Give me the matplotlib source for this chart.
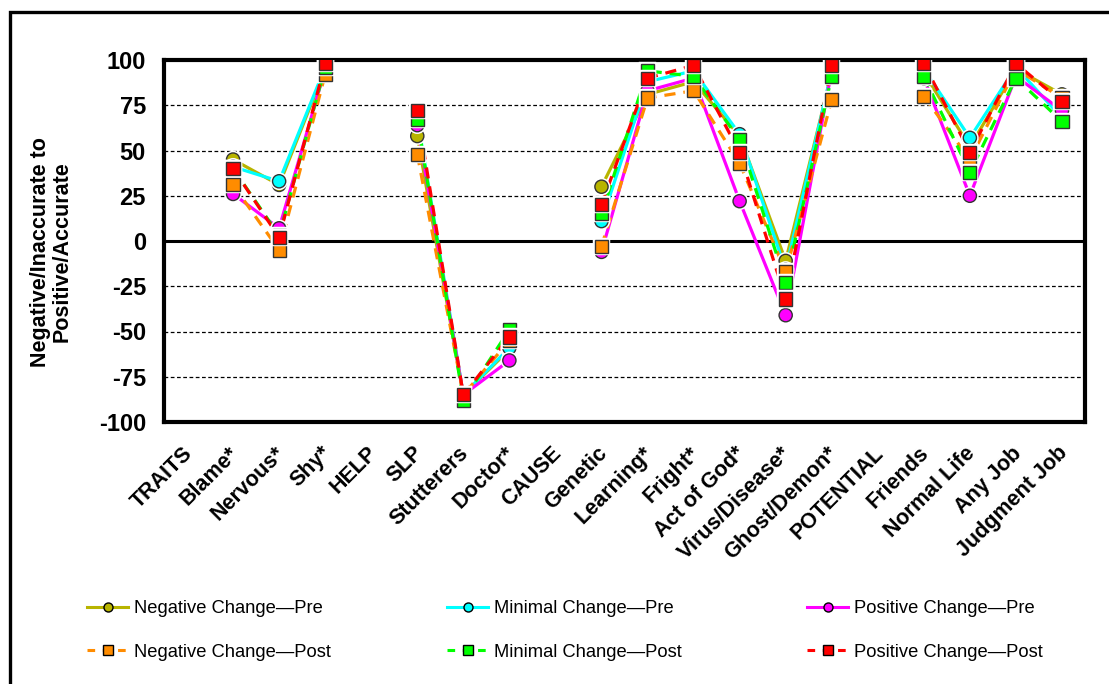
import numpy as np
import matplotlib
matplotlib.use("Agg")
import matplotlib.pyplot as plt
import matplotlib.patheffects as pe
from matplotlib.lines import Line2D
from matplotlib.patches import Rectangle
from matplotlib.transforms import ScaledTranslation

nan = np.nan
categories = ['TRAITS', 'Blame*', 'Nervous*', 'Shy*', 'HELP', 'SLP', 'Stutterers',
              'Doctor*', 'CAUSE', 'Genetic', 'Learning*', 'Fright*', 'Act of God*',
              'Virus/Disease*', 'Ghost/Demon*', 'POTENTIAL', 'Friends', 'Normal Life',
              'Any Job', 'Judgment Job']

neg_pre  = [nan, 45, 31, 95, nan, 58, -85, -60, nan, 30, 81, 88, 58, -11, 93, nan, 93, 52, 95, 81]
min_pre  = [nan, 41, 33, 96, nan, 68, -85, -59, nan, 11, 88, 94, 59, -16, 94, nan, 95, 57, 96, 68]
pos_pre  = [nan, 26, 7, 95, nan, 64, -85, -66, nan, -6, 83, 90, 22, -41, 94, nan, 90, 25, 91, 72]
neg_post = [nan, 31, -5, 92, nan, 48, -85, -55, nan, -3, 79, 83, 43, -17, 78, nan, 80, 45, 95, 79]
min_post = [nan, 40, 3, 96, nan, 67, -88, -49, nan, 15, 94, 91, 56, -23, 91, nan, 91, 38, 90, 66]
pos_post = [nan, 40, 2, 98, nan, 72, -85, -53, nan, 20, 90, 97, 49, -32, 97, nan, 98, 49, 98, 77]

series_names = ['Negative Change\u2014Pre', 'Minimal Change\u2014Pre', 'Positive Change\u2014Pre',
                'Negative Change\u2014Post', 'Minimal Change\u2014Post', 'Positive Change\u2014Post']
series_vals = [neg_pre, min_pre, pos_pre, neg_post, min_post, pos_post]
colors = ['#B8B400', '#00FFFF', '#FF00FF', '#FF8C00', '#00FF00', '#FF0000']
markers = ['o', 'o', 'o', 's', 's', 's']
dashed = [False, False, False, True, True, True]

yticks = [100, 75, 50, 25, 0, -25, -50, -75, -100]

plt.rcParams['font.family'] = ['Liberation Sans', 'DejaVu Sans']

W, H = 1109, 684
fig = plt.figure(figsize=(W / 100, H / 100), dpi=100)
fig.patch.set_facecolor('white')

# outer frame
fig.patches.append(Rectangle((10 / W, -0.1), 1.2, 1.1 - 12 / H, transform=fig.transFigure,
                             fill=False, edgecolor='black', linewidth=2.4, zorder=0))

L, R, T, B = 164, 1085, 60, 422
ax = fig.add_axes([L / W, 1 - B / H, (R - L) / W, (B - T) / H])

x = np.arange(len(categories))
for grid_y in [75, 50, 25, -25, -50, -75]:
    ax.axhline(grid_y, color='black', lw=0.9, ls=(0, (3, 2)), zorder=1)
ax.axhline(0, color='black', lw=2.2, zorder=1)

halo = [pe.Stroke(linewidth=3.2, foreground='white'), pe.Normal()]
for vals, c, m, d in zip(series_vals, colors, markers, dashed):
    y = np.array(vals, dtype=float)
    if d:
        ax.plot(x, y, color=c, lw=2.3, dashes=(3.5, 2.5), zorder=3)
    else:
        ax.plot(x, y, color=c, lw=2.3, zorder=3)
    ax.plot(x, y, ls='none', marker=m, markersize=9.5, markerfacecolor=c,
            markeredgecolor='#333333', markeredgewidth=1.0, zorder=4,
            path_effects=halo)

ax.set_xlim(-0.5, len(categories) - 0.5)
ax.set_ylim(-100, 100)
ax.set_yticks(yticks)
ax.set_yticklabels([str(v) for v in yticks], fontsize=17, fontweight='bold')
ax.set_xticks(x)
ax.set_xticklabels(categories, rotation=45, ha='right', va='top', rotation_mode='anchor',
                   fontsize=15.5, fontweight='bold')
ax.tick_params(axis='y', length=0, pad=13)
ax.tick_params(axis='x', length=0, pad=12)
off = ScaledTranslation(-5 / 100, -4 / 100, fig.dpi_scale_trans)
for lab in ax.get_xticklabels():
    lab.set_transform(lab.get_transform() + off)
for s in ax.spines.values():
    s.set_linewidth(3)

fig.text(51 / W, 1 - 252 / H, 'Negative/Inaccurate to\nPositive/Accurate', rotation=90,
         ha='center', va='center', multialignment='center', fontsize=15.5, fontweight='bold',
         linespacing=1.05)

# legend: three columns
col_x = [87, 447, 807]
for ci in range(3):
    handles = []
    labels = []
    for si in (ci, ci + 3):
        handles.append(Line2D([0], [0], color=colors[si], lw=2.2,
                              ls=(0, (2.5, 2.5)) if dashed[si] else '-',
                              marker=markers[si], markersize=6.5, markerfacecolor=colors[si],
                              markeredgecolor='black', markeredgewidth=1.0))
        labels.append(series_names[si])
    fig.legend(handles, labels, loc='upper left', bbox_to_anchor=(col_x[ci] / W, 1 - 600 / H),
               frameon=False, fontsize=13.2, handlelength=2.25, handletextpad=0.3,
               labelspacing=1.45, borderpad=0, borderaxespad=0)

fig.savefig('out.png', dpi=100)
